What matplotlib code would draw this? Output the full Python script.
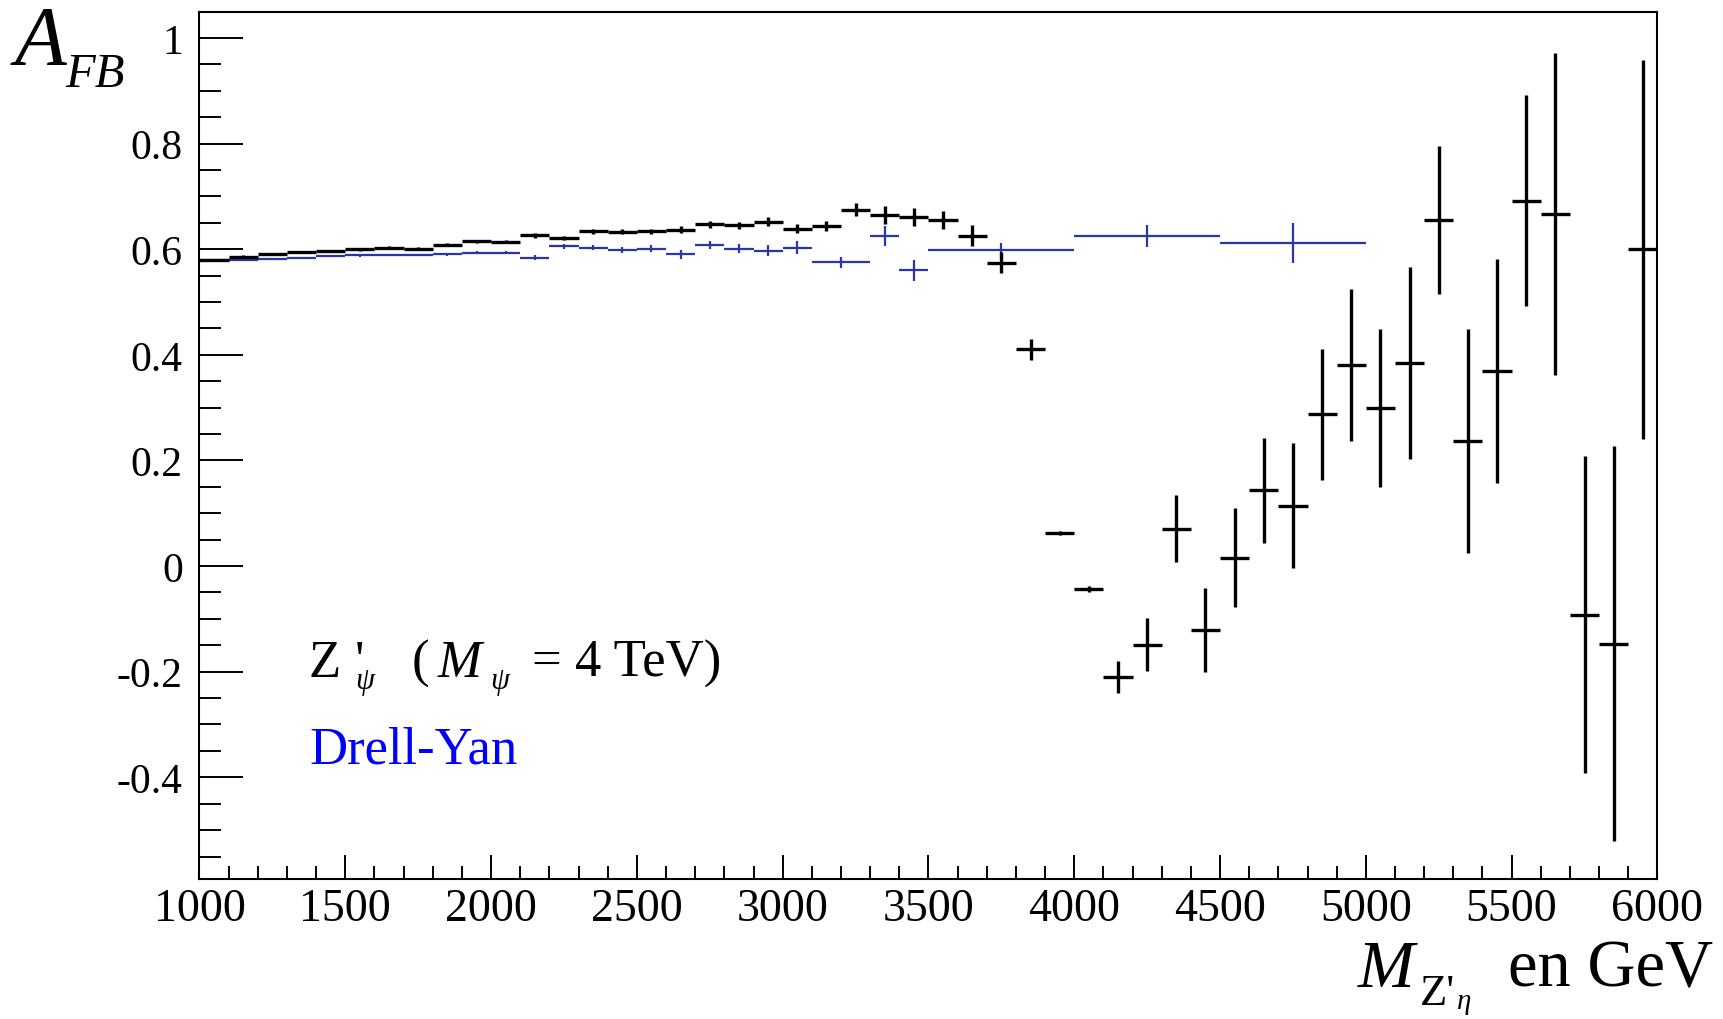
import matplotlib
matplotlib.use("Agg")
import matplotlib.pyplot as plt
from matplotlib.ticker import MultipleLocator, FixedLocator, FixedFormatter

plt.rcParams['font.family'] = ['Liberation Serif', 'DejaVu Serif']
plt.rcParams['axes.unicode_minus'] = False

# ---------------- data ----------------
# Z'_psi (black), 100 GeV bins
black_x = [1050, 1150, 1250, 1350, 1450, 1550, 1650, 1750, 1850, 1950,
           2050, 2150, 2250, 2350, 2450, 2550, 2650, 2750, 2850, 2950,
           3050, 3150, 3250, 3350, 3450, 3550, 3650, 3750, 3850, 3950,
           4050, 4150, 4250, 4350, 4450, 4550, 4650, 4750, 4850, 4950,
           5050, 5150, 5250, 5350, 5450, 5550, 5650, 5750, 5850, 5950]
black_hw = [50] * 50
black_y = [0.580, 0.586, 0.591, 0.595, 0.597, 0.600, 0.603, 0.601, 0.608, 0.615,
           0.614, 0.626, 0.621, 0.634, 0.633, 0.634, 0.637, 0.647, 0.645, 0.652,
           0.639, 0.644, 0.675, 0.664, 0.660, 0.655, 0.625, 0.574, 0.410, 0.063,
           -0.044, -0.210, -0.149, 0.071, -0.121, 0.016, 0.143, 0.114, 0.287, 0.380,
           0.299, 0.385, 0.655, 0.237, 0.369, 0.692, 0.667, -0.092, -0.147, 0.600]
black_err = [0.002, 0.002, 0.002, 0.002, 0.002, 0.003, 0.003, 0.003, 0.003, 0.003,
             0.003, 0.004, 0.004, 0.005, 0.005, 0.005, 0.006, 0.007, 0.007, 0.009,
             0.009, 0.0095, 0.013, 0.017, 0.017, 0.017, 0.020, 0.020, 0.019, 0.004,
             0.006, 0.030, 0.050, 0.063, 0.079, 0.093, 0.099, 0.118, 0.124, 0.144,
             0.150, 0.182, 0.140, 0.212, 0.212, 0.200, 0.305, 0.300, 0.374, 0.359]

# Drell-Yan (blue), variable bins
blue_x = [1050, 1150, 1250, 1350, 1450, 1550, 1650, 1750, 1850, 1950,
          2050, 2150, 2250, 2350, 2450, 2550, 2650, 2750, 2850, 2950,
          3050, 3200, 3350, 3450, 3750, 4250, 4750]
blue_hw = [50, 50, 50, 50, 50, 50, 50, 50, 50, 50,
           50, 50, 50, 50, 50, 50, 50, 50, 50, 50,
           50, 100, 50, 50, 250, 250, 250]
blue_y = [0.580, 0.580, 0.582, 0.584, 0.587, 0.588, 0.589, 0.589, 0.590, 0.593,
          0.593, 0.584, 0.605, 0.603, 0.598, 0.601, 0.590, 0.608, 0.601, 0.597,
          0.603, 0.575, 0.625, 0.560, 0.598, 0.625, 0.612]
blue_err = [0.002, 0.002, 0.002, 0.002, 0.002, 0.002, 0.002, 0.002, 0.003, 0.003,
            0.003, 0.004, 0.005, 0.005, 0.006, 0.006, 0.0085, 0.008, 0.009, 0.010,
            0.013, 0.011, 0.019, 0.020, 0.013, 0.021, 0.038]

xticks = [1000, 1500, 2000, 2500, 3000, 3500, 4000, 4500, 5000, 5500, 6000]
xticklabels = ['1000', '1500', '2000', '2500', '3000', '3500', '4000', '4500', '5000', '5500', '6000']
yticks = [-0.4, -0.2, 0.0, 0.2, 0.4, 0.6, 0.8, 1.0]
yticklabels = ['-0.4', '-0.2', '0', '0.2', '0.4', '0.6', '0.8', '1']

# ---------------- figure ----------------
W, H = 1724, 1020
fig = plt.figure(figsize=(W / 100, H / 100), dpi=100)
ax = fig.add_axes([199.5 / W, (H - 880) / H, (1657.4 - 199.5) / W, (880 - 13) / H])

blue_col = '#2a35a8'
ax.errorbar(blue_x, blue_y, xerr=blue_hw, yerr=blue_err, fmt='none',
            ecolor=blue_col, elinewidth=1.6, capsize=0, zorder=2)
ax.errorbar(black_x, black_y, xerr=black_hw, yerr=black_err, fmt='none',
            ecolor='black', elinewidth=2.4, capsize=0, zorder=3)

ax.set_xlim(1000, 6000)
ax.set_ylim(-0.5926, 1.049)

ax.xaxis.set_major_locator(FixedLocator(xticks))
ax.xaxis.set_major_formatter(FixedFormatter(xticklabels))
ax.xaxis.set_minor_locator(MultipleLocator(100))
ax.yaxis.set_major_locator(FixedLocator(yticks))
ax.yaxis.set_major_formatter(FixedFormatter(yticklabels))
ax.yaxis.set_minor_locator(MultipleLocator(0.05))

ax.tick_params(axis='y', which='major', direction='in', length=32, width=1.4,
               pad=12, labelsize=30, right=False)
ax.tick_params(axis='y', which='minor', direction='in', length=16, width=1.4, right=False)
ax.tick_params(axis='x', which='major', direction='in', length=17, width=1.4,
               pad=6, labelsize=33, top=False)
ax.tick_params(axis='x', which='minor', direction='in', length=9.5, width=1.4, top=False)
for sp in ax.spines.values():
    sp.set_linewidth(1.5)


def ftext(x, y, s, **kw):
    fig.text(x / W, 1 - y / H, s, va='baseline', ha='left', **kw)


# y axis title
ftext(15, 65, 'A', fontsize=61, style='italic')
ftext(65, 87, 'FB', fontsize=35, style='italic')

# x axis title
ftext(1358, 987, 'M', fontsize=49, style='italic')
ftext(1420, 1005, "Z'", fontsize=32)
ftext(1457, 1009, 'η', fontsize=21, style='italic')
ftext(1508, 987, 'en GeV', fontsize=48)

# annotations
ftext(309, 677, 'Z', fontsize=38)
ftext(355, 677, "'", fontsize=38)
ftext(355, 689, 'ψ', fontsize=22, style='italic')
ftext(412, 677, '(', fontsize=38)
ftext(438, 677, 'M', fontsize=38, style='italic')
ftext(490, 689, 'ψ', fontsize=22, style='italic')
ftext(532, 677, '= 4 TeV)', fontsize=38)
ftext(309, 763, 'Drell-Yan', fontsize=38, color='#0000ff')

fig.savefig('out.png', dpi=100)
